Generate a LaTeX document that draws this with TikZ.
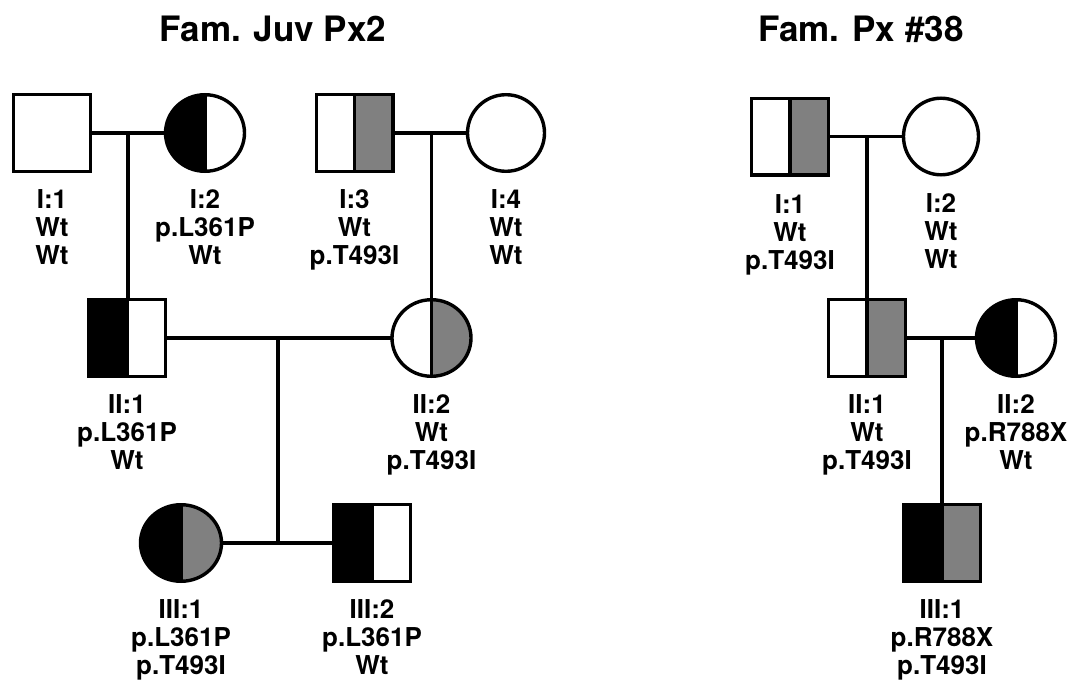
\documentclass[tikz,border=0pt]{standalone}
\usepackage{fontspec}
\setmainfont{TeX Gyre Heros}
\usetikzlibrary{shapes.geometric}
\definecolor{mutgray}{HTML}{808080}
\tikzset{
  lw/.style={line width=3.4pt},
  ind/.style={lw, draw=black, inner sep=0pt, outer sep=0pt, fill=white},
  male/.style={ind, rectangle, minimum width=76.6pt, minimum height=76.6pt},
  female/.style={ind, ellipse, minimum width=#1, minimum height=76.6pt},
  female/.default=77pt,
  halves/.style 2 args={path picture={
    \fill[#1] (path picture bounding box.south west) rectangle (path picture bounding box.north);
    \fill[#2] (path picture bounding box.south) rectangle (path picture bounding box.north east);
    \draw[lw] (path picture bounding box.south) -- (path picture bounding box.north);}},
  conn/.style={lw},
  lab/.style={anchor=north, align=center, inner sep=0pt, font=\fontsize{26}{28}\selectfont\bfseries},
  ttl/.style={anchor=base, inner sep=0pt, font=\fontsize{35}{40}\selectfont\bfseries},
}
\begin{document}
\begin{tikzpicture}[x={(1pt,0pt)}, y={(0pt,-1pt)}]
\useasboundingbox (0,0) rectangle (1074,680);

% titles
\node[ttl] (t1) at (273,41) {Fam. Juv Px2};
\node[ttl] (t2) at (861,41) {Fam. Px \#38};

% ---- Family Juv Px2 ----
\node[male] (A1) at (52,133) {};
\node[female=79pt, halves={black}{white}] (A2) at (205,133) {};
\node[male, halves={white}{mutgray}] (A3) at (354.5,133) {};
\node[female=77pt] (A4) at (506,133) {};
\node[male, halves={black}{white}] (B1) at (127,338) {};
\node[female=79pt, halves={white}{mutgray}] (B2) at (431.5,338) {};
\node[female=81pt, halves={black}{mutgray}] (C1) at (181,543) {};
\node[male, halves={black}{white}] (C2) at (372,543) {};

\coordinate (mA12) at (128,133);
\coordinate (mA34) at (431.5,133);
\coordinate (mB12) at (278,338);

\draw[conn] (A1.east) -- (A2.west);
\draw[conn] (A3.east) -- (A4.west);
\draw[conn] (mA12) -- (mA12 |- B1.north);
\draw[conn] (mA34) -- (mA34 |- B2.north);
\draw[conn] (B1.east) -- (B2.west);
\draw[conn] (mB12) -- (mB12 |- C1.east);
\draw[conn] (C1.east) -- (C2.west);

\node[lab] (lA1) at (52,189) {I:1\\Wt\\Wt};
\node[lab] (lA2) at (205,189) {I:2\\p.L361P\\Wt};
\node[lab] (lA3) at (354.5,189) {I:3\\Wt\\p.T493I};
\node[lab] (lA4) at (506,189) {I:4\\Wt\\Wt};
\node[lab] (lB1) at (127,394) {II:1\\p.L361P\\Wt};
\node[lab] (lB2) at (431.5,394) {II:2\\Wt\\p.T493I};
\node[lab] (lC1) at (181,599) {III:1\\p.L361P\\p.T493I};
\node[lab] (lC2) at (372,599) {III:2\\p.L361P\\Wt};

% ---- Family Px #38 ----
\node[male, halves={white}{mutgray}] (D1) at (790,136.5) {};
\node[female=75pt] (D2) at (941,136.5) {};
\node[male, halves={white}{mutgray}] (E1) at (867,338) {};
\node[female=79pt, halves={black}{white}] (E2) at (1016,338) {};
\node[male, halves={black}{mutgray}] (F1) at (942,543) {};

\coordinate (mD12) at (867,136.5);
\coordinate (mE12) at (942,338);

\draw[conn] (D1.east) -- (D2.west);
\draw[conn] (mD12) -- (mD12 |- E1.north);
\draw[conn] (E1.east) -- (E2.west);
\draw[conn] (mE12) -- (mE12 |- F1.north);

\node[lab] (lD1) at (790,194) {I:1\\Wt\\p.T493I};
\node[lab] (lD2) at (941,193) {I:2\\Wt\\Wt};
\node[lab] (lE1) at (867,394) {II:1\\Wt\\p.T493I};
\node[lab] (lE2) at (1016,394) {II:2\\p.R788X\\Wt};
\node[lab] (lF1) at (942,599) {III:1\\p.R788X\\p.T493I};
\end{tikzpicture}
\end{document}
